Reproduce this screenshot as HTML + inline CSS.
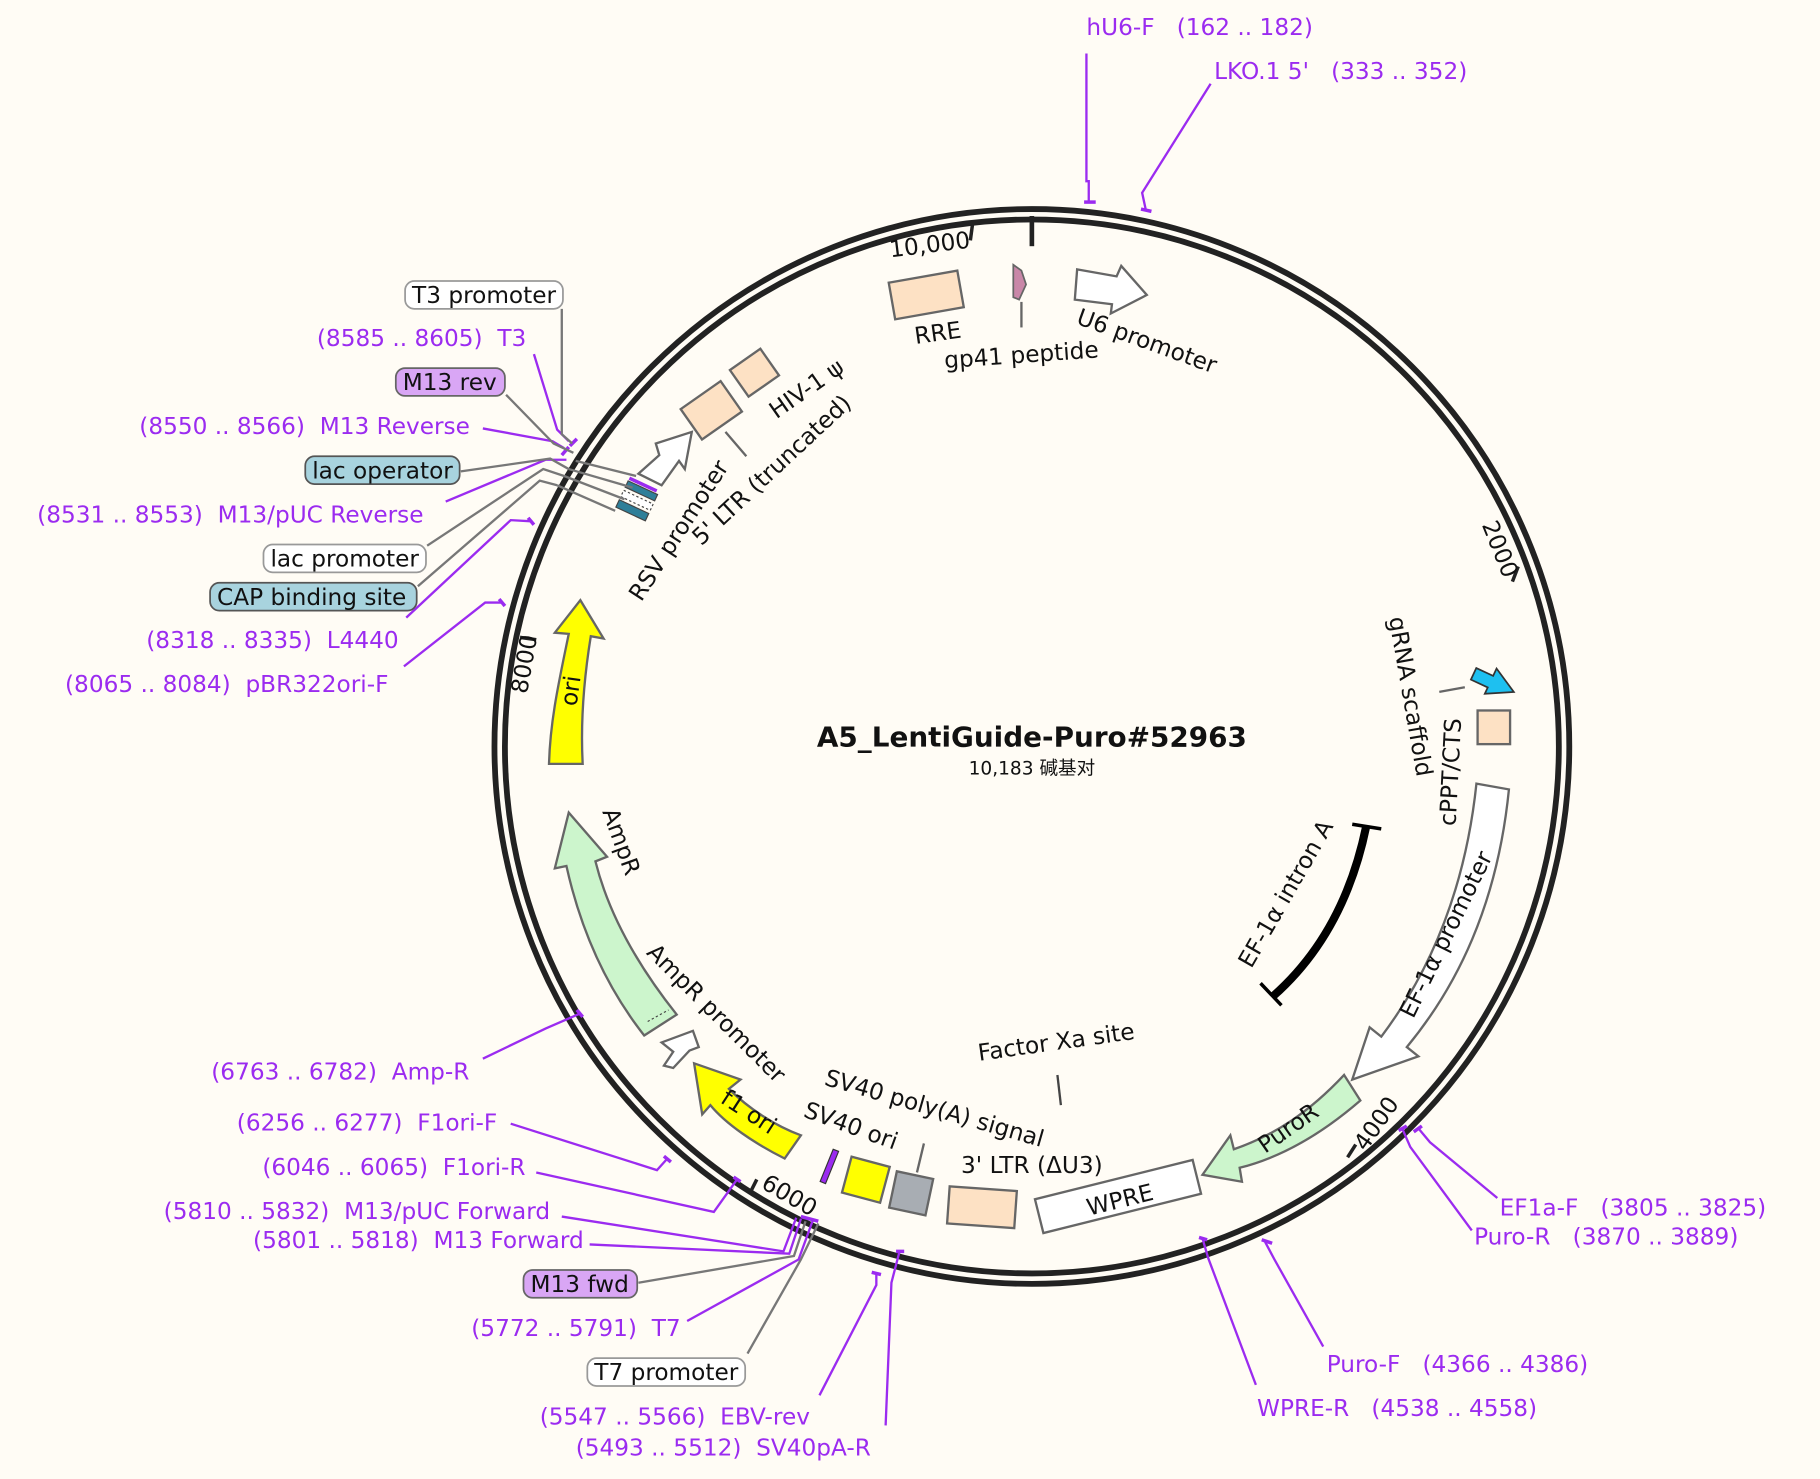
<!DOCTYPE html>
<html><head><meta charset="utf-8"><style>
html,body{margin:0;padding:0;background:#fffcf5;}
svg{display:block}
text{font-family:"DejaVu Sans","Liberation Sans","Noto Sans CJK SC",sans-serif;white-space:pre}
.p{fill:#9b2bf0;font-size:20px}
.b{fill:#111;font-size:20px}
.c{fill:#111;font-size:20px;text-anchor:middle;dominant-baseline:central}
.pl{stroke:#9b2bf0;stroke-width:2;fill:none}
.gl{stroke:#777;stroke-width:2;fill:none}
.ft{stroke:#666;stroke-width:2}
</style></head><body>
<svg width="1820" height="1479" viewBox="0 0 1568 1274" xmlns="http://www.w3.org/2000/svg">
<rect width="1568" height="1274" fill="#fffcf5"/>
<circle cx="889" cy="643" r="463" fill="none" stroke="#222" stroke-width="5"/>
<circle cx="889" cy="643" r="454" fill="none" stroke="#222" stroke-width="5"/>
<line x1="889" y1="186" x2="889" y2="212" stroke="#222" stroke-width="4"/>
<line x1="838" y1="192" x2="836" y2="207" stroke="#222" stroke-width="3"/>
<text class="c" font-size="18" x="801" y="211" transform="rotate(-7 801 211)">10,000</text>
<line x1="1308" y1="488" x2="1303" y2="501" stroke="#222" stroke-width="3"/>
<text class="c" font-size="18" x="1292" y="473" transform="rotate(68 1292 473)">2000</text>
<line x1="1168" y1="986" x2="1161" y2="997" stroke="#222" stroke-width="3"/>
<text class="c" font-size="18" x="1186" y="968" transform="rotate(-55 1186 968)">4000</text>
<line x1="652" y1="1016" x2="646" y2="1028" stroke="#222" stroke-width="3"/>
<text class="c" font-size="18" x="680" y="1030" transform="rotate(30 680 1030)">6000</text>
<line x1="448" y1="549" x2="462" y2="551" stroke="#222" stroke-width="3"/>
<text class="c" font-size="18" x="452" y="572" transform="rotate(-80 452 572)">8000</text>

<text x="889" y="643" text-anchor="middle" font-size="24" font-weight="bold" fill="#111">A5_LentiGuide-Puro#52963</text>
<text x="889" y="667" text-anchor="middle" font-size="16" fill="#111">10,183 碱基对</text>

<g transform="rotate(-10 798 254)"><rect x="768" y="238" width="60" height="32" fill="#fde1c4" stroke="#666" stroke-width="2"/></g>
<polygon points="873,228 880,233 884,245 878,258 873,256" fill="#c987a8" stroke="#666" stroke-width="1.5"/>
<line x1="880" y1="260" x2="880" y2="282" class="ft" stroke-width="1.5"/>
<polygon points="928,232 962,238 966,229 988,254 957,270 958,262 926,258" fill="#fff" stroke="#666" stroke-width="2"/>
<text class="c" x="808" y="287" transform="rotate(-8 808 287)">RRE</text>
<text class="c" x="880" y="306" transform="rotate(-4 880 306)">gp41 peptide</text>
<text class="c" x="988" y="294" transform="rotate(20 988 294)">U6 promoter</text>

<g transform="rotate(-35 650 321)"><rect x="634" y="307" width="32" height="28" fill="#fde1c4" stroke="#666" stroke-width="2"/></g>
<g transform="rotate(-35 612 354)"><rect x="592" y="338" width="42" height="32" fill="#fde1c4" stroke="#666" stroke-width="2"/></g>
<line x1="625" y1="372" x2="643" y2="393" class="ft" stroke-width="1.5"/>
<polygon points="550,408 568,392 565,382 596,372 590,404 585,397 570,418" fill="#fff" stroke="#666" stroke-width="2"/>
<text class="c" x="695" y="335" transform="rotate(-35 695 335)">HIV-1 ψ</text>
<text class="c" x="665" y="405" transform="rotate(-43 665 405)">5' LTR (truncated)</text>
<text class="c" x="585" y="457" transform="rotate(-57 585 457)">RSV promoter</text>

<g transform="rotate(25 548 435)">
<rect x="533" y="415" width="26" height="3" fill="#9b2bf0"/>
<rect x="533" y="419" width="28" height="6" fill="#2f7f99" stroke="#444"/>
<rect x="533" y="428" width="28" height="6" fill="#fff" stroke="#444" stroke-dasharray="2 2"/>
<rect x="533" y="437" width="28" height="7" fill="#2f7f99" stroke="#444"/>
</g>
<g class="gl" stroke-width="1.5">
<line x1="496" y1="397" x2="548" y2="410"/><line x1="490" y1="404" x2="545" y2="420"/>
<line x1="486" y1="410" x2="538" y2="430"/><line x1="480" y1="418" x2="530" y2="440"/>
</g>

<path d="M473,658 L502,658 C500,620 503,585 509,548 L520,550 L500,517 L478,545 L490,546 C482,585 474,620 473,658 Z" fill="#ffff00" stroke="#666" stroke-width="2"/>
<text class="c" x="492" y="595" transform="rotate(-82 492 595)">ori</text>

<path d="M555,892 L583,874 C552,835 525,790 513,742 L523,738 L490,700 L478,748 L488,746 C500,800 522,850 555,892 Z" fill="#ccf5cc" stroke="#666" stroke-width="2"/>
<line x1="558" y1="880" x2="576" y2="870" stroke="#444" stroke-dasharray="2 2"/>
<text class="c" x="535" y="725" transform="rotate(70 535 725)">AmpR</text>
<polygon points="572,918 580,906 570,898 597,888 602,902 594,905 580,920" fill="#fff" stroke="#666" stroke-width="2"/>
<text class="c" x="617" y="873" transform="rotate(45 617 873)">AmpR promoter</text>

<path d="M690,978 L676,998 C650,985 625,968 612,952 L605,960 L598,916 L638,930 L628,938 C645,955 668,970 690,978 Z" fill="#ffff00" stroke="#666" stroke-width="2"/>
<text class="c" x="645" y="958" transform="rotate(33 645 958)">f1 ori</text>

<g transform="rotate(22 715 1005)"><rect x="712" y="990" width="5" height="30" fill="#9b2bf0" stroke="#333"/></g>
<g transform="rotate(15 745 1016)"><rect x="729" y="1000" width="34" height="32" fill="#ffff00" stroke="#666" stroke-width="2"/></g>
<g transform="rotate(12 785 1028)"><rect x="769" y="1012" width="32" height="32" fill="#a8adb3" stroke="#666" stroke-width="2"/></g>
<line x1="790" y1="1010" x2="796" y2="985" class="ft" stroke-width="1.5"/>
<g transform="rotate(4 846 1040)"><rect x="817" y="1024" width="58" height="32" fill="#fde1c4" stroke="#666" stroke-width="2"/></g>
<g transform="rotate(-14 962 1030)"><rect x="893" y="1016" width="140" height="30" fill="#fff" stroke="#666" stroke-width="2"/></g>
<text class="c" x="965" y="1034" transform="rotate(-14 965 1034)">WPRE</text>
<text class="c" x="733" y="970" transform="rotate(20 733 970)">SV40 ori</text>
<text class="c" x="805" y="955" transform="rotate(16 805 955)">SV40 poly(A) signal</text>
<text class="c" x="889" y="1004">3' LTR (ΔU3)</text>
<text class="c" x="910" y="898" transform="rotate(-8 910 898)">Factor Xa site</text>
<line x1="911" y1="926" x2="914" y2="952" stroke="#444" stroke-width="2"/>

<path d="M1158,926 L1172,948 C1135,980 1100,998 1068,1006 L1070,1018 L1036,1012 L1060,978 L1063,990 C1098,978 1128,958 1158,926 Z" fill="#ccf5cc" stroke="#666" stroke-width="2"/>
<text class="c" x="1110" y="972" transform="rotate(-35 1110 972)">PuroR</text>

<path d="M1272,675 L1300,680 C1290,780 1255,850 1212,902 L1222,910 L1165,930 L1180,885 L1190,893 C1230,840 1262,770 1272,675 Z" fill="#fff" stroke="#666" stroke-width="2"/>
<text class="c" x="1246" y="805" transform="rotate(-64 1246 805)">EF-1α promoter</text>

<path d="M1177,712 C1165,770 1140,820 1097,858" fill="none" stroke="#000" stroke-width="7"/>
<line x1="1165" y1="710" x2="1190" y2="714" stroke="#000" stroke-width="3"/>
<line x1="1086" y1="847" x2="1104" y2="866" stroke="#000" stroke-width="3"/>
<text class="c" x="1108" y="770" transform="rotate(-60 1108 770)">EF-1α intron A</text>

<rect x="1273" y="612" width="28" height="29" fill="#fde1c4" stroke="#666" stroke-width="2"/>
<g transform="rotate(25 1287 588)"><polygon points="1268,583 1284,583 1284,576 1306,588 1284,600 1284,594 1268,594" fill="#1ec0f0" stroke="#333" stroke-width="1.5"/></g>
<line x1="1240" y1="596" x2="1262" y2="592" class="ft" stroke-width="1.5"/>
<text class="c" x="1215" y="600" transform="rotate(80 1215 600)">gRNA scaffold</text>
<text class="c" x="1250" y="665" transform="rotate(-87 1250 665)">cPPT/CTS</text>

<g stroke="#9b2bf0" stroke-width="3">
<line x1="934" y1="174" x2="944" y2="174"/><line x1="983" y1="180" x2="992" y2="182"/>
<line x1="1218" y1="975" x2="1225" y2="970"/><line x1="1205" y1="974" x2="1212" y2="970"/>
<line x1="1087" y1="1068" x2="1096" y2="1071"/><line x1="1033" y1="1066" x2="1040" y2="1068"/>
<line x1="772" y1="1078" x2="779" y2="1078"/><line x1="751" y1="1096" x2="759" y2="1098"/>
<line x1="690" y1="1048" x2="705" y2="1052"/><line x1="632" y1="1014" x2="638" y2="1018"/>
<line x1="572" y1="996" x2="578" y2="1001"/><line x1="497" y1="870" x2="502" y2="876"/>
<line x1="430" y1="516" x2="435" y2="522"/><line x1="455" y1="446" x2="460" y2="452"/>
<line x1="484" y1="392" x2="490" y2="385"/><line x1="491" y1="384" x2="497" y2="378"/>
</g>

<polyline class="pl" points="938,174 938,156 936,156 936,46"/>
<text x="936" y="30" class="p">hU6-F   (162 .. 182)</text>
<polyline class="pl" points="987,180 984,166 1043,72"/>
<text x="1046" y="68" class="p">LKO.1 5'   (333 .. 352)</text>

<polyline class="pl" points="1222,972 1232,984 1290,1032"/>
<text x="1292" y="1047" class="p">EF1a-F   (3805 .. 3825)</text>
<polyline class="pl" points="1208,972 1215,988 1268,1060"/>
<text x="1270" y="1072" class="p">Puro-R   (3870 .. 3889)</text>
<polyline class="pl" points="1090,1070 1098,1085 1140,1160"/>
<text x="1143" y="1182" class="p">Puro-F   (4366 .. 4386)</text>
<polyline class="pl" points="1036,1067 1041,1084 1082,1193"/>
<text x="1083" y="1220" class="p">WPRE-R   (4538 .. 4558)</text>

<polyline class="pl" points="775,1078 768,1105 763,1228"/>
<text x="496" y="1254" class="p">(5493 .. 5512)  SV40pA-R</text>
<polyline class="pl" points="755,1097 755,1107 706,1202"/>
<text x="465" y="1227" class="p">(5547 .. 5566)  EBV-rev</text>
<polyline class="gl" points="705,1054 690,1085 644,1166"/>
<rect x="506" y="1170" width="136" height="24" rx="8" fill="#fff" stroke="#999" stroke-width="1.5"/>
<text x="512" y="1189" class="b">T7 promoter</text>
<polyline class="pl" points="700,1052 688,1085 592,1138"/>
<text x="406" y="1151" class="p">(5772 .. 5791)  T7</text>
<polyline class="gl" points="694,1052 684,1082 550,1105"/>
<rect x="451" y="1094" width="98" height="24" rx="8" fill="#d9a6f5" stroke="#666" stroke-width="1.5"/>
<text x="457" y="1113" class="b">M13 fwd</text>
<polyline class="pl" points="690,1050 680,1080 508,1072"/>
<text x="218" y="1075" class="p">(5801 .. 5818)  M13 Forward</text>
<polyline class="pl" points="686,1049 675,1078 484,1048"/>
<text x="141" y="1050" class="p">(5810 .. 5832)  M13/pUC Forward</text>
<polyline class="pl" points="635,1016 615,1044 462,1010"/>
<text x="226" y="1012" class="p">(6046 .. 6065)  F1ori-R</text>
<polyline class="pl" points="575,998 566,1008 440,968"/>
<text x="204" y="974" class="p">(6256 .. 6277)  F1ori-F</text>
<polyline class="pl" points="500,873 470,886 416,912"/>
<text x="182" y="930" class="p">(6763 .. 6782)  Amp-R</text>

<polyline class="pl" points="433,519 418,519 348,574"/>
<text x="56" y="596" class="p">(8065 .. 8084)  pBR322ori-F</text>
<polyline class="pl" points="458,449 440,448 350,532"/>
<text x="126" y="558" class="p">(8318 .. 8335)  L4440</text>
<polyline class="gl" points="480,418 465,414 360,505"/>
<rect x="181" y="502" width="178" height="24" rx="8" fill="#a8d3de" stroke="#555" stroke-width="1.5"/>
<text x="187" y="521" class="b">CAP binding site</text>
<polyline class="gl" points="486,410 468,404 368,470"/>
<rect x="227" y="469" width="140" height="24" rx="8" fill="#fff" stroke="#999" stroke-width="1.5"/>
<text x="233" y="488" class="b">lac promoter</text>
<polyline class="pl" points="488,396 470,396 384,432"/>
<text x="32" y="450" class="p">(8531 .. 8553)  M13/pUC Reverse</text>
<polyline class="gl" points="490,404 474,395 397,406"/>
<rect x="263" y="393" width="133" height="24" rx="8" fill="#a8d3de" stroke="#555" stroke-width="1.5"/>
<text x="269" y="412" class="b">lac operator</text>
<polyline class="pl" points="486,386 476,380 416,369"/>
<text x="120" y="374" class="p">(8550 .. 8566)  M13 Reverse</text>
<polyline class="gl" points="494,390 477,382 436,340"/>
<rect x="341" y="317" width="94" height="24" rx="8" fill="#d9a6f5" stroke="#666" stroke-width="1.5"/>
<text x="347" y="336" class="b">M13 rev</text>
<polyline class="pl" points="490,380 480,370 460,305"/>
<text x="273" y="298" class="p">(8585 .. 8605)  T3</text>
<polyline class="gl" points="493,382 484,374 484,266"/>
<rect x="349" y="242" width="136" height="24" rx="8" fill="#fff" stroke="#999" stroke-width="1.5"/>
<text x="355" y="261" class="b">T3 promoter</text>
</svg>
</body></html>
